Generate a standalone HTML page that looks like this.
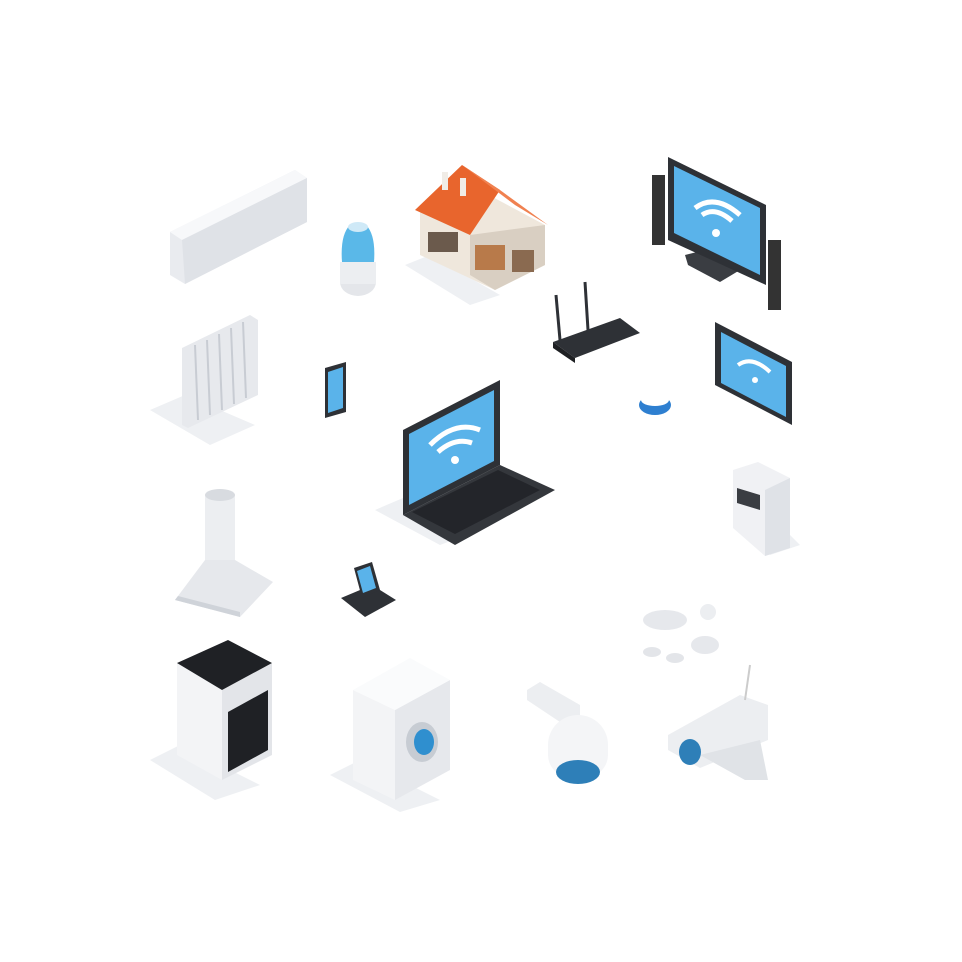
<!DOCTYPE html>
<html><head><meta charset="utf-8"><style>html,body{margin:0;padding:0;background:#fff}svg{display:block}</style></head>
<body>
<svg width="962" height="962" viewBox="0 0 962 962" xmlns="http://www.w3.org/2000/svg">
<!-- shadows -->
<g fill="#eef0f3">
<polygon points="150,410 185,395 255,425 210,445"/>
<polygon points="405,265 430,255 500,295 470,305"/>
<polygon points="375,510 410,495 480,530 440,545"/>
<polygon points="150,760 180,745 260,785 215,800"/>
<polygon points="330,775 360,760 440,800 400,812"/>
<polygon points="760,545 790,535 800,545 770,555"/>
</g>
<!-- AC -->
<polygon points="170,232 295,170 307,178 307,222 185,284 170,275" fill="#e9ebef"/>
<polygon points="170,232 295,170 307,178 182,240" fill="#f7f8fa"/>
<polygon points="182,240 307,178 307,222 185,284" fill="#dfe2e7"/>
<!-- humidifier -->
<ellipse cx="358" cy="282" rx="18" ry="14" fill="#e4e6ea"/>
<rect x="340" y="262" width="36" height="22" fill="#eceef1"/>
<path d="M342 262 Q340 235 350 225 L366 225 Q376 235 374 262 Z" fill="#5ab8e8"/>
<ellipse cx="358" cy="227" rx="10" ry="5" fill="#cfe9f7"/>
<!-- house -->
<polygon points="420,210 470,185 545,225 545,265 495,290 420,255" fill="#efe7dc"/>
<polygon points="470,235 545,225 545,265 495,290 470,275" fill="#d9cfc2"/>
<polygon points="415,210 462,165 500,190 470,235" fill="#e8652d"/>
<polygon points="462,165 500,190 548,225 515,205" fill="#f08150"/>
<rect x="442" y="172" width="6" height="18" fill="#f0ece6"/>
<rect x="460" y="178" width="6" height="18" fill="#f0ece6"/>
<rect x="428" y="232" width="30" height="20" fill="#6b5a4c"/>
<rect x="475" y="245" width="30" height="25" fill="#b87a4a"/>
<rect x="512" y="250" width="22" height="22" fill="#8a6a50"/>
<!-- TV -->
<rect x="652" y="175" width="13" height="70" fill="#333"/>
<rect x="768" y="240" width="13" height="70" fill="#333"/>
<polygon points="685,255 725,245 740,270 720,282 688,265" fill="#3a3d42"/>
<polygon points="668,157 766,205 766,285 668,240" fill="#2e3136"/>
<polygon points="674,166 760,208 760,275 674,233" fill="#5ab3ea"/>
<path d="M695 208 Q715 193 740 215" stroke="#fff" stroke-width="5" fill="none"/>
<path d="M702 215 Q715 206 732 221" stroke="#fff" stroke-width="5" fill="none"/>
<circle cx="716" cy="233" r="4" fill="#fff"/>
<!-- router -->
<polygon points="553,342 620,318 640,333 575,358" fill="#2e3136"/>
<polygon points="553,342 575,358 575,363 553,348" fill="#1e2023"/>
<line x1="560" y1="340" x2="556" y2="295" stroke="#2e3136" stroke-width="3"/>
<line x1="588" y1="330" x2="585" y2="282" stroke="#2e3136" stroke-width="3"/>
<!-- tablet -->
<polygon points="715,322 792,362 792,425 715,385" fill="#2e3136"/>
<polygon points="721,332 786,366 786,417 721,383" fill="#5ab3ea"/>
<path d="M738 365 Q752 355 770 372" stroke="#fff" stroke-width="4" fill="none"/>
<circle cx="755" cy="380" r="3" fill="#fff"/>
<!-- bracelet -->
<ellipse cx="655" cy="405" rx="16" ry="10" fill="#2e7fd0"/>
<ellipse cx="655" cy="400" rx="14" ry="6" fill="#fff"/>
<!-- small phone -->
<polygon points="325,368 346,362 346,412 325,418" fill="#2e3136"/>
<polygon points="328,372 343,367 343,408 328,413" fill="#5ab3ea"/>
<!-- radiator -->
<polygon points="182,348 250,315 258,320 258,395 188,428 182,425" fill="#e7e9ed"/>
<g stroke="#c8ccd3" stroke-width="2"><line x1="195" y1="345" x2="198" y2="420"/><line x1="207" y1="340" x2="210" y2="415"/><line x1="219" y1="334" x2="222" y2="410"/><line x1="231" y1="328" x2="234" y2="404"/><line x1="243" y1="322" x2="246" y2="398"/></g>
<!-- laptop -->
<polygon points="403,515 500,465 555,490 455,545" fill="#34373c"/>
<polygon points="412,512 498,470 540,490 455,534" fill="#23252a"/>
<polygon points="403,430 500,380 500,465 403,515" fill="#2e3136"/>
<polygon points="409,434 494,390 494,461 409,505" fill="#5ab3ea"/>
<path d="M430 445 Q455 420 480 430" stroke="#fff" stroke-width="5" fill="none"/>
<path d="M438 452 Q455 437 472 443" stroke="#fff" stroke-width="5" fill="none"/>
<circle cx="455" cy="460" r="4" fill="#fff"/>
<!-- thermostat -->
<polygon points="733,470 758,462 790,478 790,548 765,556 733,528" fill="#f0f1f4"/>
<polygon points="765,490 790,478 790,548 765,556" fill="#dfe2e7"/>
<polygon points="737,488 760,495 760,510 737,503" fill="#3a3d42"/>
<!-- hood -->
<rect x="205" y="495" width="30" height="65" fill="#eceef1"/>
<ellipse cx="220" cy="495" rx="15" ry="6" fill="#d8dbe0"/>
<polygon points="205,560 235,560 273,582 240,617 175,600" fill="#e6e8ec"/>
<polygon points="175,600 240,617 240,612 178,596" fill="#cfd3d9"/>
<!-- dock -->
<polygon points="341,598 372,585 396,600 365,617" fill="#2e3136"/>
<polygon points="354,568 372,562 380,590 362,598" fill="#2e3136"/>
<polygon points="357,571 370,566 376,588 363,593" fill="#5ab3ea"/>
<!-- sensors -->
<ellipse cx="665" cy="620" rx="22" ry="10" fill="#e6e8ec"/>
<ellipse cx="705" cy="645" rx="14" ry="9" fill="#e6e8ec"/>
<ellipse cx="708" cy="612" rx="8" ry="8" fill="#eceef1"/>
<ellipse cx="652" cy="652" rx="9" ry="5" fill="#e3e5e9"/>
<ellipse cx="675" cy="658" rx="9" ry="5" fill="#e3e5e9"/>
<!-- stove -->
<polygon points="177,663 222,690 222,780 177,755" fill="#f3f4f6"/>
<polygon points="222,690 272,663 272,755 222,780" fill="#e3e5e9"/>
<polygon points="177,663 228,640 272,663 222,690" fill="#1f2125"/>
<polygon points="228,712 268,690 268,750 228,772" fill="#1f2125"/>
<!-- washer -->
<polygon points="353,690 395,710 395,800 353,780" fill="#f3f4f6"/>
<polygon points="395,710 450,680 450,770 395,800" fill="#e6e8ec"/>
<polygon points="353,690 410,658 450,680 395,710" fill="#fafbfc"/>
<ellipse cx="422" cy="742" rx="16" ry="20" fill="#c7ccd3"/>
<ellipse cx="424" cy="742" rx="10" ry="13" fill="#2f8fcf"/>
<!-- dome camera -->
<polygon points="527,690 540,682 580,705 580,720 560,722 527,700" fill="#eceef1"/>
<path d="M548 745 A30 30 0 0 1 608 745 L608 755 A30 25 0 0 1 548 755 Z" fill="#f4f5f7"/>
<ellipse cx="578" cy="772" rx="22" ry="12" fill="#2e7fb8"/>
<!-- cctv -->
<polygon points="668,735 740,695 768,705 768,740 700,768 668,750" fill="#eceef1"/>
<polygon points="700,755 760,740 768,780 745,780" fill="#e0e3e7"/>
<ellipse cx="690" cy="752" rx="11" ry="13" fill="#2e7fb8"/>
<line x1="745" y1="700" x2="750" y2="665" stroke="#ccc" stroke-width="2"/>
</svg>
</body></html>
